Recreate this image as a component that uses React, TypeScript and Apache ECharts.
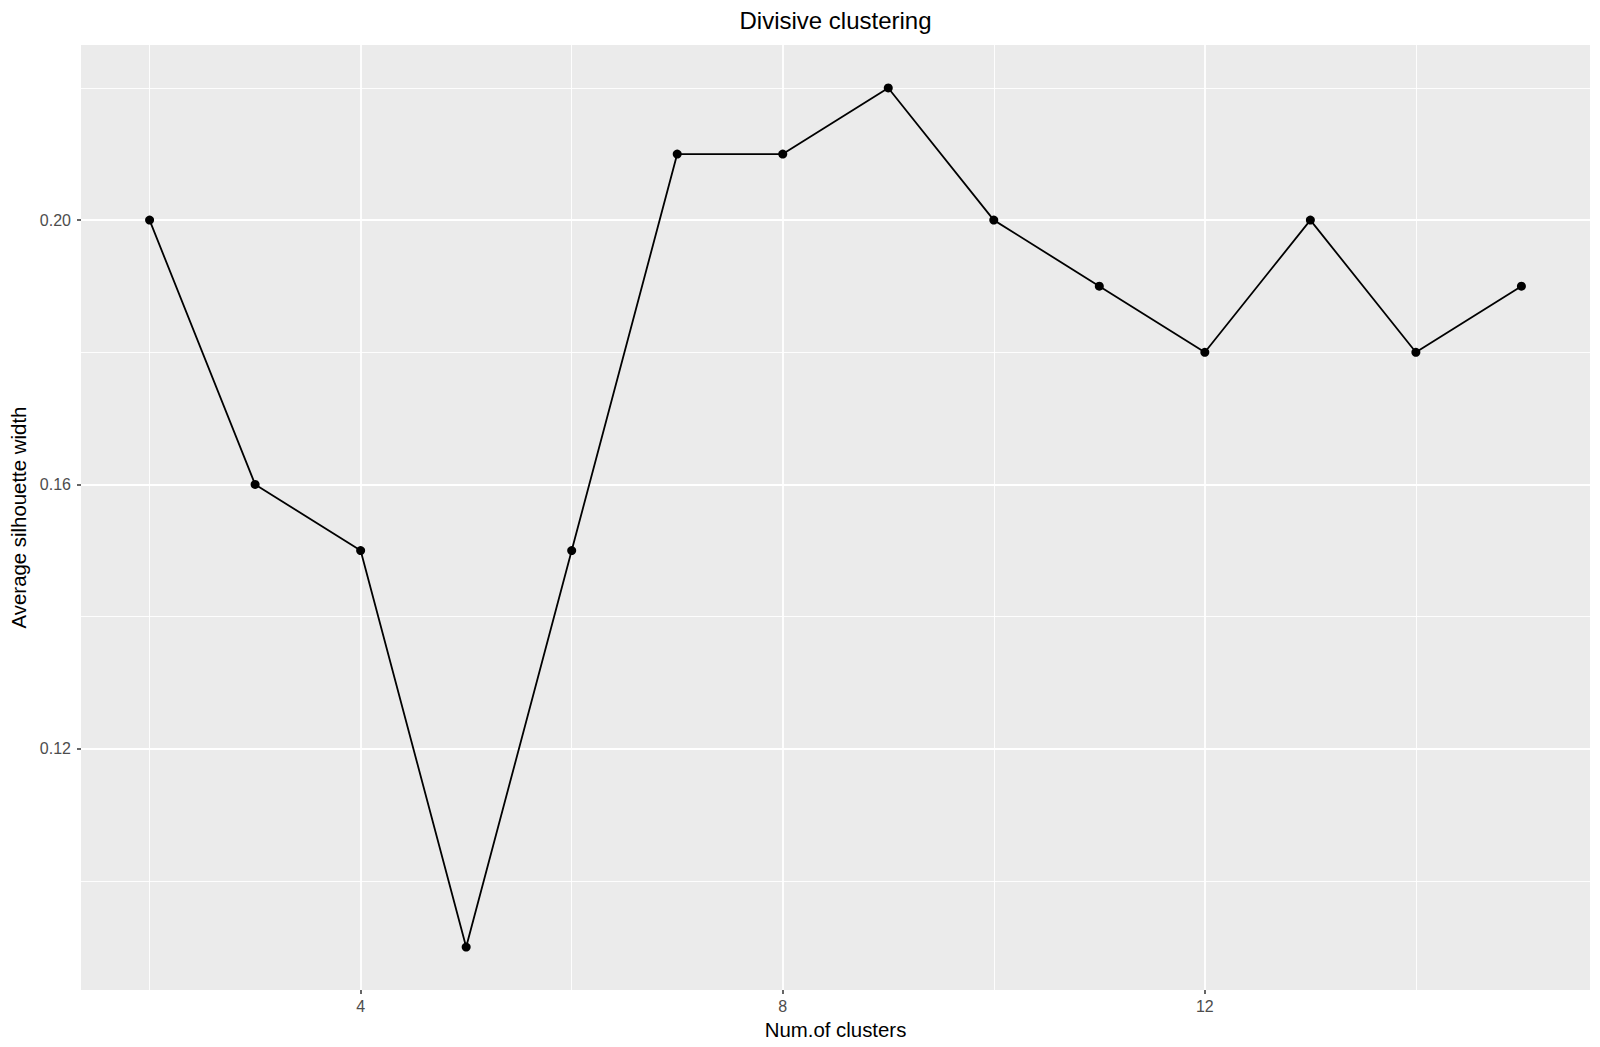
import React, { useEffect, useRef } from "react";
import * as echarts from "echarts";

const clusters = [2, 3, 4, 5, 6, 7, 8, 9, 10, 11, 12, 13, 14, 15];
const silhouette = [0.2, 0.16, 0.15, 0.09, 0.15, 0.21, 0.21, 0.22, 0.2, 0.19, 0.18, 0.2, 0.18, 0.19];
const xMajor = [4, 8, 12];
const xMinor = [2, 6, 10, 14];
const yMajor = [0.12, 0.16, 0.2];
const yMinor = [0.1, 0.14, 0.18, 0.22];
const titleText = "Divisive clustering";
const xTitle = "Num.of clusters";
const yTitle = "Average silhouette width";

const FONT = "'Liberation Sans', Arial, Helvetica, sans-serif";

export default function App() {
  const ref = useRef<HTMLDivElement>(null);
  useEffect(() => {
    if (!ref.current) return;
    const chart = echarts.init(ref.current, undefined, { renderer: "svg" });
    const gridLeft = 81;
    const gridTop = 45;
    const gridW = 1509;
    const gridH = 945;
    const major = { color: "#ffffff", width: 1.8, type: "solid" };
    const minor = { color: "#ffffff", width: 0.9, type: "solid" };
    const gridLines: any[] = [
      ...xMinor.map((v) => ({ xAxis: v, lineStyle: minor })),
      ...yMinor.map((v) => ({ yAxis: v, lineStyle: minor })),
      ...xMajor.map((v) => ({ xAxis: v, lineStyle: major })),
      ...yMajor.map((v) => ({ yAxis: v, lineStyle: major })),
    ];
    const data = clusters.map((c, i) => [c, silhouette[i]]);
    chart.setOption({
      animation: false,
      backgroundColor: "#ffffff",
      grid: {
        left: gridLeft,
        top: gridTop,
        width: gridW,
        height: gridH,
        show: true,
        backgroundColor: "#EBEBEB",
        borderWidth: 0,
      },
      xAxis: {
        type: "value",
        min: 1.35,
        max: 15.65,
        axisLine: { show: false },
        splitLine: { show: false },
        axisTick: {
          show: true,
          customValues: xMajor,
          length: 4,
          lineStyle: { color: "#333333", width: 1.5 },
        },
        axisLabel: {
          customValues: xMajor,
          margin: 8,
          color: "#4D4D4D",
          fontSize: 16,
          fontFamily: FONT,
        },
      },
      yAxis: {
        type: "value",
        min: 0.0835,
        max: 0.2265,
        axisLine: { show: false },
        splitLine: { show: false },
        axisTick: {
          show: true,
          customValues: yMajor,
          length: 4,
          lineStyle: { color: "#333333", width: 1.5 },
        },
        axisLabel: {
          customValues: yMajor,
          margin: 10,
          color: "#4D4D4D",
          fontSize: 16,
          fontFamily: FONT,
          formatter: (v: number) => v.toFixed(2),
        },
      },
      graphic: [
        {
          type: "text",
          x: gridLeft + gridW / 2,
          y: 20.5,
          style: {
            text: titleText,
            font: `24px ${FONT}`,
            fill: "#000000",
            align: "center",
            verticalAlign: "middle",
          },
        },
        {
          type: "text",
          x: gridLeft + gridW / 2,
          y: 1030,
          style: {
            text: xTitle,
            font: `20.4px ${FONT}`,
            fill: "#000000",
            align: "center",
            verticalAlign: "middle",
          },
        },
        {
          type: "text",
          x: 19,
          y: gridTop + gridH / 2,
          rotation: Math.PI / 2,
          style: {
            text: yTitle,
            font: `20.4px ${FONT}`,
            fill: "#000000",
            align: "center",
            verticalAlign: "middle",
          },
        },
      ],
      series: [
        {
          name: "grid",
          type: "line",
          data: data,
          showSymbol: false,
          lineStyle: { width: 0, opacity: 0 },
          silent: true,
          z: 1,
          markLine: {
            silent: true,
            symbol: ["none", "none"],
            label: { show: false },
            emphasis: { disabled: true },
            data: gridLines,
          },
        },
        {
          name: "silhouette",
          type: "line",
          data: data,
          z: 5,
          symbol: "circle",
          symbolSize: 9,
          showSymbol: true,
          itemStyle: { color: "#000000" },
          lineStyle: { color: "#000000", width: 1.8 },
        },
      ],
    });
    return () => chart.dispose();
  }, []);
  return (
    <div
      ref={ref}
      style={{ position: "fixed", left: 0, top: 0, width: 1600, height: 1047 }}
    />
  );
}
